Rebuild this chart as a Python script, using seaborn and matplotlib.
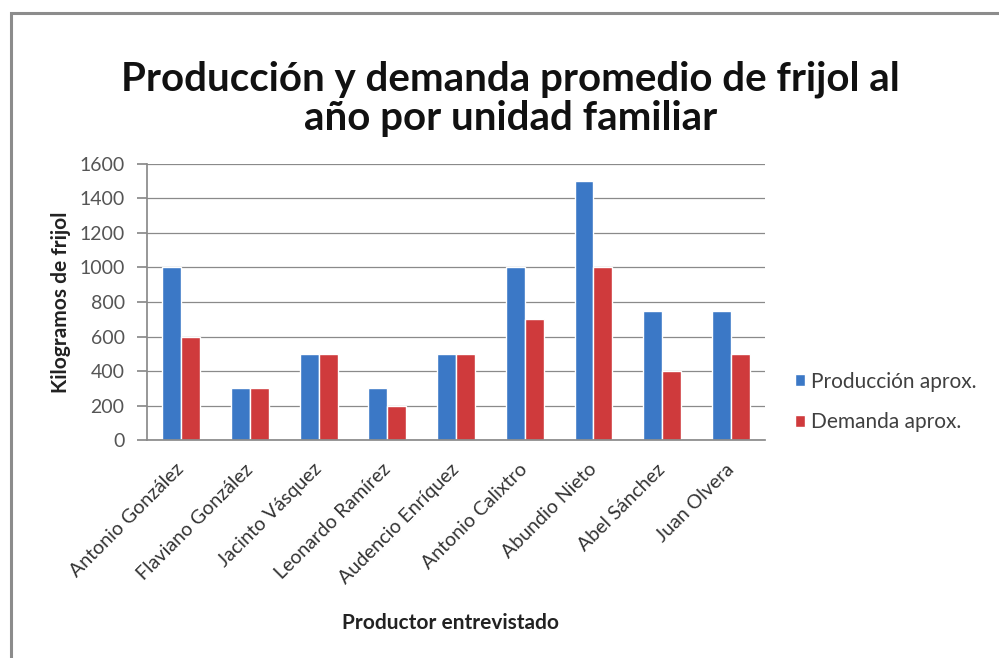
import matplotlib
matplotlib.use("Agg")
import matplotlib.pyplot as plt
from matplotlib.patches import Rectangle
import seaborn as sns
import pandas as pd

# Datos por productor (kg de frijol al año)
productores = [
    "Antonio González", "Flaviano González", "Jacinto Vásquez",
    "Leonardo Ramírez", "Audencio Enríquez", "Antonio Calixtro",
    "Abundio Nieto", "Abel Sánchez", "Juan Olvera",
]
produccion = [1000, 300, 500, 300, 500, 1000, 1500, 750, 750]
demanda = [600, 300, 500, 200, 500, 700, 1000, 400, 500]
series = ["Producción aprox.", "Demanda aprox."]
y_ticks = [0, 200, 400, 600, 800, 1000, 1200, 1400, 1600]

df = pd.DataFrame({
    "productor": productores * 2,
    "kg": produccion + demanda,
    "serie": [series[0]] * len(productores) + [series[1]] * len(productores),
})

sns.set_theme(style="white")
plt.rcParams["font.family"] = ["Lato", "DejaVu Sans"]

fig = plt.figure(figsize=(9.99, 6.58), dpi=100)
ax = fig.add_axes([0.147, 0.331, 0.619, 0.420])

sns.barplot(
    data=df, x="productor", y="kg", hue="serie",
    palette=["#3B78C6", "#CF3A3C"], saturation=1, width=0.55,
    ax=ax, legend=True,
)

ax.set_ylim(0, 1600)
ax.set_xlim(-0.5, len(productores) - 0.5)
ax.set_yticks(y_ticks)
ax.yaxis.grid(True, color="#8a8a8a", linewidth=0.9)
ax.set_axisbelow(True)
for side in ["top", "right"]:
    ax.spines[side].set_visible(False)
ax.spines["left"].set_color("#8a8a8a")
ax.spines["bottom"].set_color("#8a8a8a")
ax.tick_params(axis="y", which="major", direction="out", length=7,
               color="#8a8a8a", labelsize=14, labelcolor="#555555", pad=9, left=True)
ax.tick_params(axis="x", length=0, labelsize=14, labelcolor="#333333", pad=19)
plt.setp(ax.get_xticklabels(), rotation=45, ha="right", va="center",
         rotation_mode="anchor")

ax.set_xlabel("Productor entrevistado", fontsize=15, fontweight="bold", color="#222222")
ax.xaxis.set_label_coords(0.491, -0.625)
ax.set_ylabel("Kilogramos de frijol", fontsize=15, fontweight="bold", color="#222222")
ax.yaxis.set_label_coords(-0.122, 0.5)

fig.text(0.511, 0.850, "Producción y demanda promedio de frijol al\naño por unidad familiar",
         ha="center", va="center", fontsize=29, fontweight="bold", color="#111111",
         linespacing=1.05)

leg = ax.legend(
    loc="center left", bbox_to_anchor=(0.777, 0.389), bbox_transform=fig.transFigure,
    frameon=False, fontsize=15, handlelength=0.5, handleheight=0.5,
    handletextpad=0.25, labelspacing=1.0,
)
for t in leg.get_texts():
    t.set_color("#404040")

# marco exterior del gráfico
fig.patches.append(Rectangle((11 / 999, -0.05), 1.2, 1.05 - 13 / 658,
                             transform=fig.transFigure, fill=False,
                             edgecolor="#8c8c8c", linewidth=2.2))

fig.savefig("out.png", dpi=100)
